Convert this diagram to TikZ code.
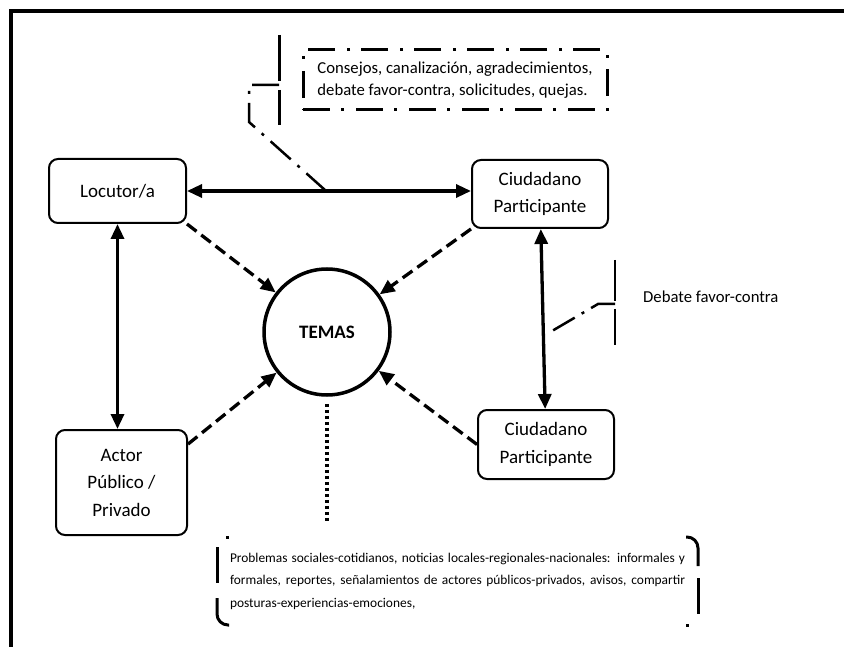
\documentclass[tikz,border=0pt]{standalone}
\usepackage{fontspec}
\setmainfont{Carlito}
\usetikzlibrary{arrows.meta,calc}
\begin{document}
\begin{tikzpicture}[x=1pt,y=-1pt,
  box/.style={draw,line width=2pt,rounded corners=9pt,align=center,
    font=\fontsize{19}{27.5}\selectfont,inner sep=0pt},
  link/.style={line width=3.3pt,{Triangle[length=15pt,width=13pt]}-{Triangle[length=15pt,width=13pt]}},
  flow/.style={line width=3.3pt,dash pattern=on 12pt off 6pt,-{Triangle[length=15pt,width=13pt]}},
  dashdot/.style={line width=3pt,dash pattern=on 27pt off 11pt on 3pt off 12pt},
  leader/.style={line width=2.5pt,dash pattern=on 27pt off 9pt on 3pt off 9pt},
  bar/.style={line width=3pt},
  note/.style={font=\fontsize{16.7}{22.5}\selectfont,inner sep=0pt},
]
\useasboundingbox (0,0) rectangle (844,647);

% outer frame (top and left edges)
\draw[line width=4pt] (11,647) -- (11,11) -- (844,11);

% nodes
\node[box,minimum width=137pt,minimum height=64pt] (loc) at (117.5,191) {Locutor/a};
\node[box,minimum width=136pt,minimum height=68pt] (cu1) at (540,194) {Ciudadano\\Participante};
\node[box,minimum width=136pt,minimum height=69pt] (cu2) at (546,444.5) {Ciudadano\\Participante};
\node[box,minimum width=131pt,minimum height=105pt] (act) at (121.5,482.5) {Actor\\Público /\\Privado};
\node[circle,draw,line width=3.5pt,minimum size=126pt,inner sep=0pt,
      font=\bfseries\fontsize{19}{23}\selectfont] (tem) at (327,332) {TEMAS};

% two-way links
\draw[link] (loc.east) -- (loc.east -| cu1.west);
\draw[link] (loc.south) -- (loc.south |- act.north);
\draw[link] (cu1) -- (cu2);

% dashed arrows into the topic circle
\draw[flow] (loc.south east) -- (tem);
\draw[flow] (cu1.south west) -- (tem);
\draw[flow] (act.30) -- (tem);
\draw[flow] (cu2.west) -- (tem);

% dotted drop towards the list of topics
\coordinate (dend) at (327,523);
\draw[line width=4pt,dash pattern=on 3pt off 3pt] ($(tem.south)+(0,7)$) -- (dend);

% top callout
\node[note,draw,dashdot,minimum width=304pt,minimum height=60pt,align=left] (cbox) at (455,80)
  {Consejos, canalización, agradecimientos,\\debate favor-contra, solicitudes, quejas.};
\coordinate (tbA) at (279,35);
\coordinate (tbB) at (279,125);
\coordinate (tbJ) at (279,85);
\coordinate (tbK) at (249,85);
\coordinate (tbL) at (249,122);
\coordinate (tbM) at (325,190);
\draw[bar] (tbA) -- (279,81);
\draw[bar] (279,90) -- (tbB);
\draw[leader] (tbJ) -- (tbK) -- (tbL) -- (tbM);

% right callout
\node[note,anchor=west] (deb) at (643,297) {Debate favor-contra};
\coordinate (rbA) at (615,260);
\coordinate (rbB) at (615,345);
\coordinate (rbJ) at (615,304);
\coordinate (rbK) at (598,304);
\coordinate (rbM) at (552,331);
\draw[line width=2.5pt] (rbA) -- (615,301);
\draw[line width=2.5pt] (615,309) -- (rbB);
\draw[line width=2.5pt,dash pattern=on 25pt off 8pt on 3pt off 8pt] (rbJ) -- (rbK) -- (rbM);

% list of topics in a bracket pair
\node[inner sep=0pt,text width=455pt,align=justify,
      font=\fontsize{13.4}{22.5}\selectfont] (lst) at (457.5,581)
  {\hyphenpenalty=10000\exhyphenpenalty=10000\spaceskip=0.2em plus 1em minus 0.12em
   Problemas sociales-cotidianos, noticias locales-regionales-nacionales: informales y\linebreak
   formales, reportes, señalamientos de actores públicos-privados, avisos, compartir\linebreak
   posturas-experiencias-emociones,};
\draw[bar] (226,537) -- (229,537);
\draw[bar] (217,547) -- (217,583);
\draw[bar,rounded corners=11pt] (217,598) -- (217,625) -- (229,625);
\draw[bar,rounded corners=11pt] (686,537) -- (698,537) -- (698,566);
\draw[bar] (698,578) -- (698,614);
\draw[bar] (686,625) -- (689,625);
\end{tikzpicture}
\end{document}
